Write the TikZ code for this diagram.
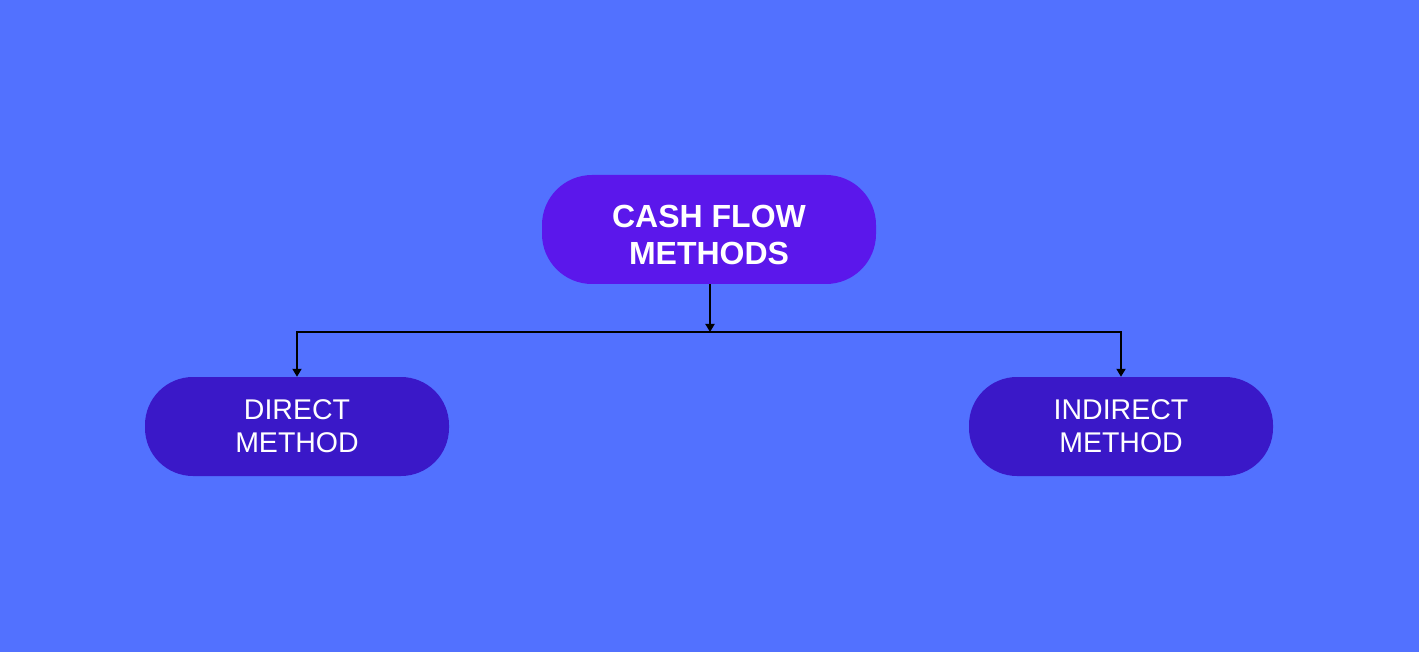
\documentclass[tikz,border=0pt]{standalone}
\usepackage{fontspec}
\setmainfont{Liberation Sans}
\usetikzlibrary{arrows.meta}
\definecolor{bg}{HTML}{5271FF}
\definecolor{topc}{HTML}{5B17EB}
\definecolor{subc}{HTML}{3A18C8}
\tikzset{
  topbox/.style={fill=topc, rounded corners=50pt, minimum width=334pt, minimum height=109pt, inner sep=0pt},
  toptext/.style={text=white, align=center, font=\fontsize{32}{37}\selectfont\bfseries, inner sep=0pt},
  subbox/.style={fill=subc, rounded corners=48pt, minimum width=304pt, minimum height=99pt, text=white, align=center, font=\fontsize{28.5}{33}\selectfont, inner sep=0pt},
  conn/.style={draw=black, line width=1.8pt, -{Triangle[length=8pt,width=9pt]}}
}
\begin{document}
\begin{tikzpicture}[x=1pt,y=-1pt]
\fill[bg] (0,0) rectangle (1419,652);
\useasboundingbox (0,0) rectangle (1419,652);
\node[topbox] (top) at (709,229.5) {};
\node[toptext] (toplabel) at ([yshift=-5pt]top.center) {CASH FLOW\\METHODS};
\node[subbox] (left) at (297,426.5) {DIRECT\\METHOD};
\node[subbox] (right) at (1121,426.5) {INDIRECT\\METHOD};
\coordinate (j) at (710,332);
\draw[conn] (top.south -| j) -- (j);
\draw[conn] (j) -| (left.north);
\draw[conn] (j) -| (right.north);
\end{tikzpicture}
\end{document}
